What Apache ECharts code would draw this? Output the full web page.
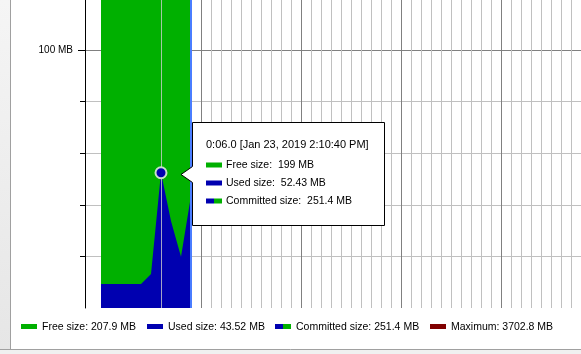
<!DOCTYPE html>
<html>
<head>
<meta charset="utf-8">
<script src="https://cdn.jsdelivr.net/npm/echarts@6/dist/echarts.min.js"></script>
<style>
html,body{margin:0;padding:0;background:#fff;}
#c{width:581px;height:354px;}
</style>
</head>
<body>
<div id="c"></div>
<script>
// ---- data ----
const times = [0, 1, 2, 3, 4, 5, 6, 7, 8, 9];            // seconds
const usedMB = [9.3, 9.3, 9.3, 9.3, 9.3, 13.2, 52.43, 33.7, 19.9, 43.52];
const committedMB = [251.4, 251.4, 251.4, 251.4, 251.4, 251.4, 251.4, 251.4, 251.4, 251.4];
const yMajorTicks = [100];
const yMinorTicks = [20, 40, 60, 80];
const hoverIndex = 6;
const legendLabels = ['Free size: 207.9 MB', 'Used size: 43.52 MB', 'Committed size: 251.4 MB', 'Maximum: 3702.8 MB'];
const tooltipLines = ['0:06.0 [Jan 23, 2019 2:10:40 PM]', 'Free size:  199 MB', 'Used size:  52.43 MB', 'Committed size:  251.4 MB'];

const GREEN = '#00b000', BLUE = '#0000b0', RED = '#800000';
const FONT = '"Liberation Sans", Arial, sans-serif';

const chart = echarts.init(document.getElementById('c'));

function pair(xs, ys) { return xs.map((x, i) => [x, ys[i]]); }

const textStyle = (x, y, t, size) => ({
  type: 'text', x: x, y: y, silent: true,
  style: { text: t, fill: '#000', font: (size || 11) + 'px ' + FONT, textVerticalAlign: 'middle', textAlign: 'left' }
});
const rect = (x, y, w, h, fill) => ({ type: 'rect', silent: true, shape: { x: x, y: y, width: w, height: h }, style: { fill: fill } });

const legendX = [21, 147, 275, 430];
const legendGraphics = [];
const legendColors = [GREEN, BLUE, null, RED];
legendLabels.forEach((t, i) => {
  const x = legendX[i];
  if (legendColors[i]) {
    legendGraphics.push(rect(x, 324, 16, 5, legendColors[i]));
  } else {
    legendGraphics.push(rect(x, 324, 8, 5, BLUE));
    legendGraphics.push(rect(x + 8, 324, 8, 5, GREEN));
  }
  legendGraphics.push(textStyle(x + 21, 327.5, t, 10.5));
});

const tipGraphics = [
  { type: 'polygon', silent: true, z: 100,
    shape: { points: [[192.5, 122.5], [384.5, 122.5], [384.5, 225.5], [192.5, 225.5], [192.5, 182.5], [181, 174.5], [192.5, 166.5]] },
    style: { fill: '#fff', stroke: '#000', lineWidth: 1 } },
];
const tipY = [144.5, 165, 183, 201];
tooltipLines.forEach((t, i) => {
  if (i === 0) {
    tipGraphics.push(Object.assign(textStyle(206, tipY[0], t, 11), { z: 101 }));
  } else {
    if (i === 1) tipGraphics.push(Object.assign(rect(206, tipY[i] - 2.5, 16, 5, GREEN), { z: 101 }));
    if (i === 2) tipGraphics.push(Object.assign(rect(206, tipY[i] - 2.5, 16, 5, BLUE), { z: 101 }));
    if (i === 3) {
      tipGraphics.push(Object.assign(rect(206, tipY[i] - 2.5, 8, 5, BLUE), { z: 101 }));
      tipGraphics.push(Object.assign(rect(214, tipY[i] - 2.5, 8, 5, GREEN), { z: 101 }));
    }
    tipGraphics.push(Object.assign(textStyle(226, tipY[i], t, 10.5), { z: 101 }));
  }
});

const frameGraphics = [
  { type: 'rect', silent: true, shape: { x: 0, y: 0, width: 10, height: 349 },
    style: { fill: new echarts.graphic.LinearGradient(0, 0, 0, 1, [{ offset: 0, color: '#f5f5f5' }, { offset: 1, color: '#e6e6e6' }]) } },
  { type: 'line', silent: true, shape: { x1: 10.5, y1: 0, x2: 10.5, y2: 349 }, style: { stroke: '#a0a0a0', lineWidth: 1 } },
  { type: 'rect', silent: true, shape: { x: 0, y: 349, width: 581, height: 5 }, style: { fill: '#f0f0f0' } },
  { type: 'line', silent: true, shape: { x1: 0, y1: 349.5, x2: 581, y2: 349.5 }, style: { stroke: '#a0a0a0', lineWidth: 1 } },
];

const YMAX = 119.4;

chart.setOption({
  animation: false,
  backgroundColor: '#fff',
  grid: [
    { left: 85, right: 0, top: 0, bottom: 46 },
    { left: 101, right: 0, top: 0, bottom: 46 }
  ],
  xAxis: [
    { gridIndex: 0, type: 'value', min: -1.6, max: 48, show: false },
    { gridIndex: 1, type: 'value', min: 0, max: 48, interval: 10,
      axisLine: { show: false }, axisTick: { show: false }, axisLabel: { show: false },
      splitLine: { show: true, showMinLine: false, showMaxLine: false, lineStyle: { color: '#808080', width: 1 } },
      minorTick: { show: false, splitNumber: 10 },
      minorSplitLine: { show: true, lineStyle: { color: '#c0c0c0', width: 1 } } }
  ],
  yAxis: [
    { gridIndex: 0, type: 'value', position: 'left', min: 0, max: YMAX, interval: 20,
      axisLine: { show: true, onZero: false, lineStyle: { color: '#000', width: 1 } },
      axisTick: { show: true, length: 5, customValues: yMinorTicks, lineStyle: { color: '#000' } },
      axisLabel: { show: false },
      splitLine: { show: true, lineStyle: { color: '#c0c0c0', width: 1 } } },
    { gridIndex: 0, type: 'value', position: 'left', min: 0, max: YMAX, interval: 100,
      axisLine: { show: false, onZero: false },
      axisTick: { show: true, length: 7, customValues: yMajorTicks, lineStyle: { color: '#000' } },
      axisLabel: { show: true, customValues: yMajorTicks, margin: 12, formatter: '{value} MB',
        color: '#000', fontFamily: FONT, fontSize: 10 },
      splitLine: { show: true, lineStyle: { color: '#808080', width: 1 } } },
    { gridIndex: 1, type: 'value', min: 0, max: YMAX, show: false }
  ],
  series: [
    { name: 'Committed size', type: 'line', xAxisIndex: 1, yAxisIndex: 2,
      data: pair(times, committedMB), symbol: 'none', lineStyle: { width: 0 },
      areaStyle: { color: GREEN, opacity: 1 }, z: 2 },
    { name: 'Used size', type: 'line', xAxisIndex: 1, yAxisIndex: 2,
      data: pair(times, usedMB), symbol: 'none', lineStyle: { width: 0 },
      areaStyle: { color: BLUE, opacity: 1 }, z: 3,
      markLine: { silent: true, symbol: 'none', label: { show: false }, animation: false,
        data: [
          { xAxis: times[hoverIndex], lineStyle: { color: 'rgba(205,205,205,0.8)', width: 1, type: 'solid' } },
          { xAxis: times[times.length - 1], lineStyle: { color: '#4a7dff', width: 2, type: 'solid' } }
        ] } },
    { name: 'hover', type: 'scatter', xAxisIndex: 1, yAxisIndex: 2, silent: true,
      data: [[times[hoverIndex], usedMB[hoverIndex]]], symbol: 'circle', symbolSize: 11,
      itemStyle: { color: BLUE, borderColor: '#c8e0c8', borderWidth: 2, opacity: 1 }, z: 5 }
  ],
  graphic: { elements: frameGraphics.concat(legendGraphics, tipGraphics) }
});
</script>
</body>
</html>
